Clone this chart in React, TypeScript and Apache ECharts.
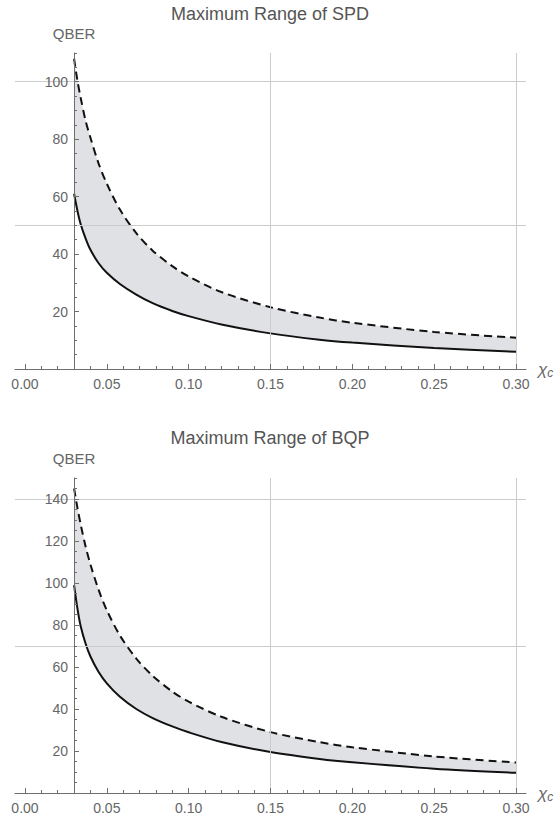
import React, { useEffect, useRef } from "react";
import * as echarts from "echarts";

// ---- data ----
const xcSamples = [0.03, 0.032, 0.034, 0.037, 0.04, 0.045, 0.05, 0.058, 0.068, 0.078, 0.09, 0.1, 0.12, 0.15, 0.18, 0.2, 0.25, 0.3];
const spdLower = [61, 55.2, 50.5, 45.5, 41.5, 36.8, 33.5, 29.6, 25.9, 22.9, 20.2, 18.4, 15.5, 12.4, 10.2, 9.2, 7.3, 6.0];
const spdUpper = [108, 100.5, 94.5, 86.5, 80.5, 71.5, 64.5, 55.5, 47.3, 41.2, 35.8, 32.2, 26.8, 21.5, 17.9, 16.1, 12.9, 10.9];
const bqpLower = [99, 88, 79.5, 71.2, 65, 57.6, 52.2, 45.8, 40, 35.7, 31.7, 28.9, 24.3, 19.5, 16.2, 14.6, 11.6, 9.6];
const bqpUpper = [145, 136, 128, 117.5, 108.8, 96.7, 87, 75, 64, 55.8, 48.3, 43.5, 36.3, 29, 24.2, 21.8, 17.4, 14.5];

const xMajorTicks = [0, 0.05, 0.1, 0.15, 0.2, 0.25, 0.3];
const xMinorTicks = [0.01, 0.02, 0.03, 0.04, 0.06, 0.07, 0.08, 0.09, 0.11, 0.12, 0.13, 0.14, 0.16, 0.17, 0.18, 0.19, 0.21, 0.22, 0.23, 0.24, 0.26, 0.27, 0.28, 0.29];
const spdYMajor = [20, 40, 60, 80, 100];
const spdYMinor = [5, 10, 15, 25, 30, 35, 45, 50, 55, 65, 70, 75, 85, 90, 95, 105, 110];
const bqpYMajor = [20, 40, 60, 80, 100, 120, 140];
const bqpYMinor = [5, 10, 15, 25, 30, 35, 45, 50, 55, 65, 70, 75, 85, 90, 95, 105, 110, 115, 125, 130, 135, 145, 150];
const xGridLines = [0.15, 0.3];
const spdGridLines = [50, 100];
const bqpGridLines = [70, 140];

const X_MIN = -0.0061;
const X_MAX = 0.3061;

const FONT = '"Liberation Sans", Arial, Helvetica, sans-serif';
const AXIS_COLOR = "#6e6e6e";
const LABEL_COLOR = "#666666";

const panels = [
  { title: "Maximum Range of SPD", lower: spdLower, upper: spdUpper, yMax: 110, yMajor: spdYMajor, yMinor: spdYMinor, gridY: spdGridLines, top: 53, bottom: 450, titleY: 14 },
  { title: "Maximum Range of BQP", lower: bqpLower, upper: bqpUpper, yMax: 150, yMajor: bqpYMajor, yMinor: bqpYMinor, gridY: bqpGridLines, top: 478, bottom: 26, titleY: 438 },
];

function buildOption() {
  const grid: any[] = [];
  const xAxis: any[] = [];
  const yAxis: any[] = [];
  const series: any[] = [];
  const graphic: any[] = [];

  panels.forEach((p, k) => {
    const gMain = k * 2;
    const gMinor = k * 2 + 1;
    const rect = { left: 15, right: 30, top: p.top, bottom: p.bottom, containLabel: false, outerBoundsMode: "none" };
    grid.push({ ...rect });
    grid.push({ ...rect });

    xAxis.push({
      type: "value",
      gridIndex: gMain,
      min: X_MIN,
      max: X_MAX,
      position: "bottom",
      z: 10,
      axisLine: { show: true, onZero: false, lineStyle: { color: AXIS_COLOR, width: 1 } },
      axisTick: { show: true, inside: true, length: 5, customValues: xMajorTicks, lineStyle: { color: AXIS_COLOR } },
      axisLabel: {
        show: true,
        customValues: xMajorTicks,
        margin: 8,
        color: LABEL_COLOR,
        fontSize: 14,
        fontFamily: FONT,
        formatter: (v: number) => v.toFixed(2),
      },
      splitLine: { show: false },
      name: "{a|χ}{b|c}",
      nameLocation: "end",
      nameGap: 12,
      nameTextStyle: {
        rich: {
          a: { fontSize: 17, fontStyle: "italic", color: LABEL_COLOR, fontFamily: FONT, lineHeight: 20 },
          b: { fontSize: 12, fontStyle: "italic", color: LABEL_COLOR, fontFamily: FONT, lineHeight: 20, verticalAlign: "bottom", padding: [9, 0, 0, 0] },
        },
      },
    });
    xAxis.push({
      type: "value",
      gridIndex: gMinor,
      min: X_MIN,
      max: X_MAX,
      position: "bottom",
      z: 10,
      axisLine: { show: false, onZero: false },
      axisTick: { show: true, inside: true, length: 3, customValues: xMinorTicks, lineStyle: { color: AXIS_COLOR } },
      axisLabel: { show: false },
      splitLine: { show: false },
    });

    yAxis.push({
      type: "value",
      gridIndex: gMain,
      min: 0,
      max: p.yMax,
      position: "left",
      offset: -59,
      z: 10,
      axisLine: { show: true, onZero: false, lineStyle: { color: AXIS_COLOR, width: 1 } },
      axisTick: { show: true, inside: true, length: 5, customValues: p.yMajor, lineStyle: { color: AXIS_COLOR } },
      axisLabel: {
        show: true,
        customValues: p.yMajor,
        margin: 6,
        color: LABEL_COLOR,
        fontSize: 14,
        fontFamily: FONT,
        formatter: (v: number) => String(v),
      },
      splitLine: { show: false },
      name: "QBER",
      nameLocation: "end",
      nameGap: 12,
      nameTextStyle: { color: LABEL_COLOR, fontSize: 15, fontFamily: FONT, align: "center" },
    });
    yAxis.push({
      type: "value",
      gridIndex: gMinor,
      min: 0,
      max: p.yMax,
      position: "left",
      offset: -59,
      z: 10,
      axisLine: { show: false, onZero: false },
      axisTick: { show: true, inside: true, length: 3, customValues: p.yMinor, lineStyle: { color: AXIS_COLOR } },
      axisLabel: { show: false },
      splitLine: { show: false },
    });

    // grid lines
    series.push({
      type: "line",
      xAxisIndex: gMain,
      yAxisIndex: gMain,
      data: [],
      showSymbol: false,
      silent: true,
      z: 1,
      markLine: {
        silent: true,
        symbol: ["none", "none"],
        label: { show: false },
        lineStyle: { color: "#cccccc", width: 1, type: "solid" },
        data: [...p.gridY.map((v) => ({ yAxis: v })), ...xGridLines.map((v) => ({ xAxis: v }))],
      },
    });

    // lower bound (solid); data as [value, xc] so that the stacked dimension is the value
    series.push({
      type: "line",
      xAxisIndex: gMain,
      yAxisIndex: gMain,
      stack: "band" + k,
      dimensions: ["qber", "xc"],
      encode: { x: "xc", y: "qber" },
      data: xcSamples.map((x, i) => [p.lower[i], x]),
      showSymbol: false,
      smooth: 0.3,
      z: 3,
      lineStyle: { color: "#111111", width: 2, type: "solid" },
    });
    // upper bound (dashed) with band fill
    series.push({
      type: "line",
      xAxisIndex: gMain,
      yAxisIndex: gMain,
      stack: "band" + k,
      dimensions: ["qber", "xc"],
      encode: { x: "xc", y: "qber" },
      data: xcSamples.map((x, i) => [p.upper[i] - p.lower[i], x]),
      showSymbol: false,
      smooth: 0.3,
      z: 3,
      lineStyle: { color: "#111111", width: 2, type: [8, 5] },
      areaStyle: { color: "rgba(172,175,182,0.54)" },
    });

    graphic.push({
      type: "text",
      x: 270,
      y: p.titleY,
      style: { text: p.title, fontSize: 18, fontFamily: FONT, fill: "#555555", align: "center", verticalAlign: "middle" },
    });
  });

  return {
    animation: false,
    backgroundColor: "#ffffff",
    textStyle: { fontFamily: FONT },
    grid,
    xAxis,
    yAxis,
    series,
    graphic,
  };
}

export default function App() {
  const ref = useRef<HTMLDivElement>(null);
  useEffect(() => {
    if (!ref.current) return;
    const chart = echarts.init(ref.current, null, { renderer: "svg" });
    chart.setOption(buildOption() as any);
    return () => chart.dispose();
  }, []);
  return <div ref={ref} style={{ position: "absolute", left: 0, top: 0, width: 556, height: 819 }} />;
}
